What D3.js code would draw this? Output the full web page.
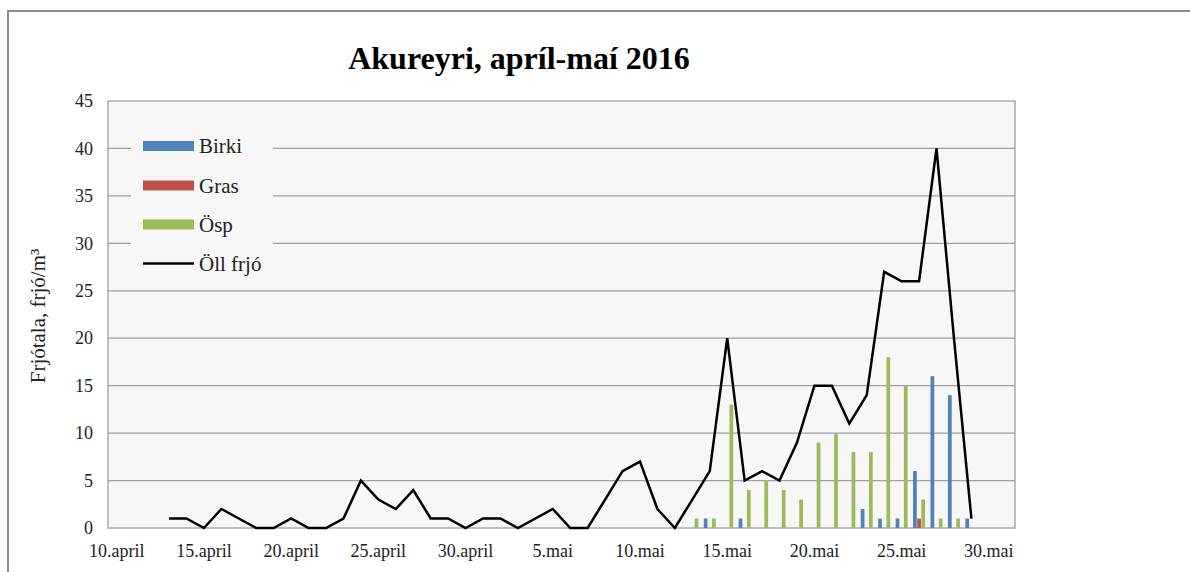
<!DOCTYPE html>
<html>
<head>
<title>Akureyri, apríl-maí 2016</title>
<script src="https://d3js.org/d3.v7.min.js"></script>
<style>
body,html {
  margin: 0;
  padding: 0;
  background: white;
}
svg {
  display: block;
  font-family: "Liberation Serif", "Times New Roman", serif;
}
</style>
</head>
<body>

<svg id="chart" width="1190" height="572"></svg>

<script>

// days 10.april .. 31.mai
const aprilDays = d3.range(10, 31);
const maiDays = d3.range(1, 32);
const categories = aprilDays.map(d => d + ".april").concat(maiDays.map(d => d + ".mai"));

const xTickLabels = ["10.april", "15.april", "20.april", "25.april", "30.april",
                     "5.mai", "10.mai", "15.mai", "20.mai", "25.mai", "30.mai"];
const yTicks = [0, 5, 10, 15, 20, 25, 30, 35, 40, 45];

const seriesNames = ["Birki", "Gras", "Ösp"];
const seriesColors = ["#4f81bd", "#c0504d", "#9bbb59"];

const birki = [
  0,0,0,0,0,0,0,0,0,0,
  0,0,0,0,0,0,0,0,0,0,
  0,0,0,0,0,0,0,0,0,0,
  0,0,0,0,1,0,1,0,0,0,
  0,0,0,2,1,1,6,16,14,1,
  0,0];
const gras = [
  0,0,0,0,0,0,0,0,0,0,
  0,0,0,0,0,0,0,0,0,0,
  0,0,0,0,0,0,0,0,0,0,
  0,0,0,0,0,0,0,0,0,0,
  0,0,0,0,0,0,1,0,0,0,
  0,0];
const osp = [
  0,0,0,0,0,0,0,0,0,0,
  0,0,0,0,0,0,0,0,0,0,
  0,0,0,0,0,0,0,0,0,0,
  0,0,0,1,1,13,4,5,4,3,
  9,10,8,8,18,15,3,1,1,0,
  0,0];
const ollFrjo = [
  null,null,null,1,1,0,2,1,0,0,
  1,0,0,1,5,3,2,4,1,1,
  0,1,1,0,1,2,0,0,3,6,
  7,2,0,3,6,20,5,6,5,9,
  15,15,11,14,27,26,26,40,20,1,
  null,null];

main();

function main() {
  const svg = d3.select("#chart");
  drawChart(svg);
}

function drawChart(svg) {
  let left = 108, right = 1015, top = 101, bottom = 528;
  let gridColor = "#a0a0a0";

  // outer frame
  svg.append("rect")
     .attr("x", 8).attr("y", 11)
     .attr("width", 1200).attr("height", 600)
     .attr("fill", "white")
     .attr("stroke", "#8c8c8c")
     .attr("stroke-width", 2);

  svg.append("text")
     .attr("x", 519).attr("y", 69)
     .attr("text-anchor", "middle")
     .style("font-size", "32px")
     .style("font-weight", "bold")
     .text("Akureyri, apríl-maí 2016");

  let xScale = d3.scaleBand()
                 .domain(categories)
                 .range([left, right])
                 .padding(0);
  let bw = xScale.bandwidth();

  let yScale = d3.scaleLinear()
                 .domain([0, 45])
                 .range([bottom, top]);

  // plot area
  svg.append("rect")
     .attr("x", left).attr("y", top)
     .attr("width", right - left).attr("height", bottom - top)
     .attr("fill", "#f7f7f7");

  svg.append("g")
     .selectAll("line")
     .data(yTicks.slice(1, -1))
     .join("line")
       .attr("x1", left).attr("x2", right)
       .attr("y1", d => yScale(d)).attr("y2", d => yScale(d))
       .attr("stroke", gridColor)
       .attr("stroke-width", 1.3);

  svg.append("rect")
     .attr("x", left).attr("y", top)
     .attr("width", right - left).attr("height", bottom - top)
     .attr("fill", "none")
     .attr("stroke", gridColor)
     .attr("stroke-width", 1.3);

  // axes
  let yAxis = d3.axisLeft(yScale).tickValues(yTicks).tickSize(0).tickPadding(15);
  let gy = svg.append("g")
     .attr("transform", "translate(" + left + ",0)")
     .call(yAxis);
  gy.select(".domain").remove();
  gy.selectAll("text").style("font-size", "18px").style("font-family", "Liberation Serif").attr("fill", "#222");

  let xAxis = d3.axisBottom(xScale).tickValues(xTickLabels).tickSize(0).tickPadding(16);
  let gx = svg.append("g")
     .attr("transform", "translate(0," + bottom + ")")
     .call(xAxis);
  gx.select(".domain").remove();
  gx.selectAll("text").style("font-size", "18px").style("font-family", "Liberation Serif").attr("fill", "#222");

  svg.append("text")
     .attr("transform", "translate(45,316) rotate(-90)")
     .attr("text-anchor", "middle")
     .style("font-size", "21px")
     .attr("fill", "#222")
     .text("Frjótala, frjó/m³");

  // bars
  let series = [birki, gras, osp];
  let x1 = d3.scaleBand()
             .domain(d3.range(3))
             .range([bw / 2 - 6, bw / 2 + 6])
             .paddingInner(0.1);

  series.forEach(function(values, s) {
    svg.append("g")
       .selectAll("rect")
       .data(values.map((v, i) => ({ cat: categories[i], v: v })).filter(d => d.v > 0))
       .join("rect")
         .attr("x", d => xScale(d.cat) + x1(s))
         .attr("width", x1.bandwidth())
         .attr("y", d => yScale(d.v))
         .attr("height", d => yScale(0) - yScale(d.v))
         .attr("fill", seriesColors[s]);
  });

  // total line
  let dataLine = d3.line()
                   .defined(d => d.v != null)
                   .x(d => xScale(d.cat) + bw / 2)
                   .y(d => yScale(d.v));

  svg.append("path")
     .attr("fill", "none")
     .attr("stroke", "black")
     .attr("stroke-width", 2.5)
     .attr("stroke-linejoin", "miter")
     .attr("d", dataLine(ollFrjo.map((v, i) => ({ cat: categories[i], v: v }))));

  // legend
  let legend = svg.append("g");
  legend.append("rect")
     .attr("x", 131).attr("y", 126)
     .attr("width", 142).attr("height", 158)
     .attr("fill", "#f7f7f7");

  let rowY = [146, 185.5, 224.5, 263.5];
  seriesNames.forEach(function(name, i) {
    legend.append("rect")
       .attr("x", 143).attr("y", rowY[i] - 5)
       .attr("width", 51).attr("height", 10)
       .attr("fill", seriesColors[i]);
    legend.append("text")
       .attr("x", 199).attr("y", rowY[i])
       .attr("dy", "0.35em")
       .style("font-size", "21px")
       .attr("fill", "#222")
       .text(name);
  });
  legend.append("line")
     .attr("x1", 143).attr("x2", 194)
     .attr("y1", rowY[3]).attr("y2", rowY[3])
     .attr("stroke", "black")
     .attr("stroke-width", 2.5);
  legend.append("text")
     .attr("x", 199).attr("y", rowY[3])
     .attr("dy", "0.35em")
     .style("font-size", "21px")
     .attr("fill", "#222")
     .text("Öll frjó");
}

</script>

</body>
</html>
